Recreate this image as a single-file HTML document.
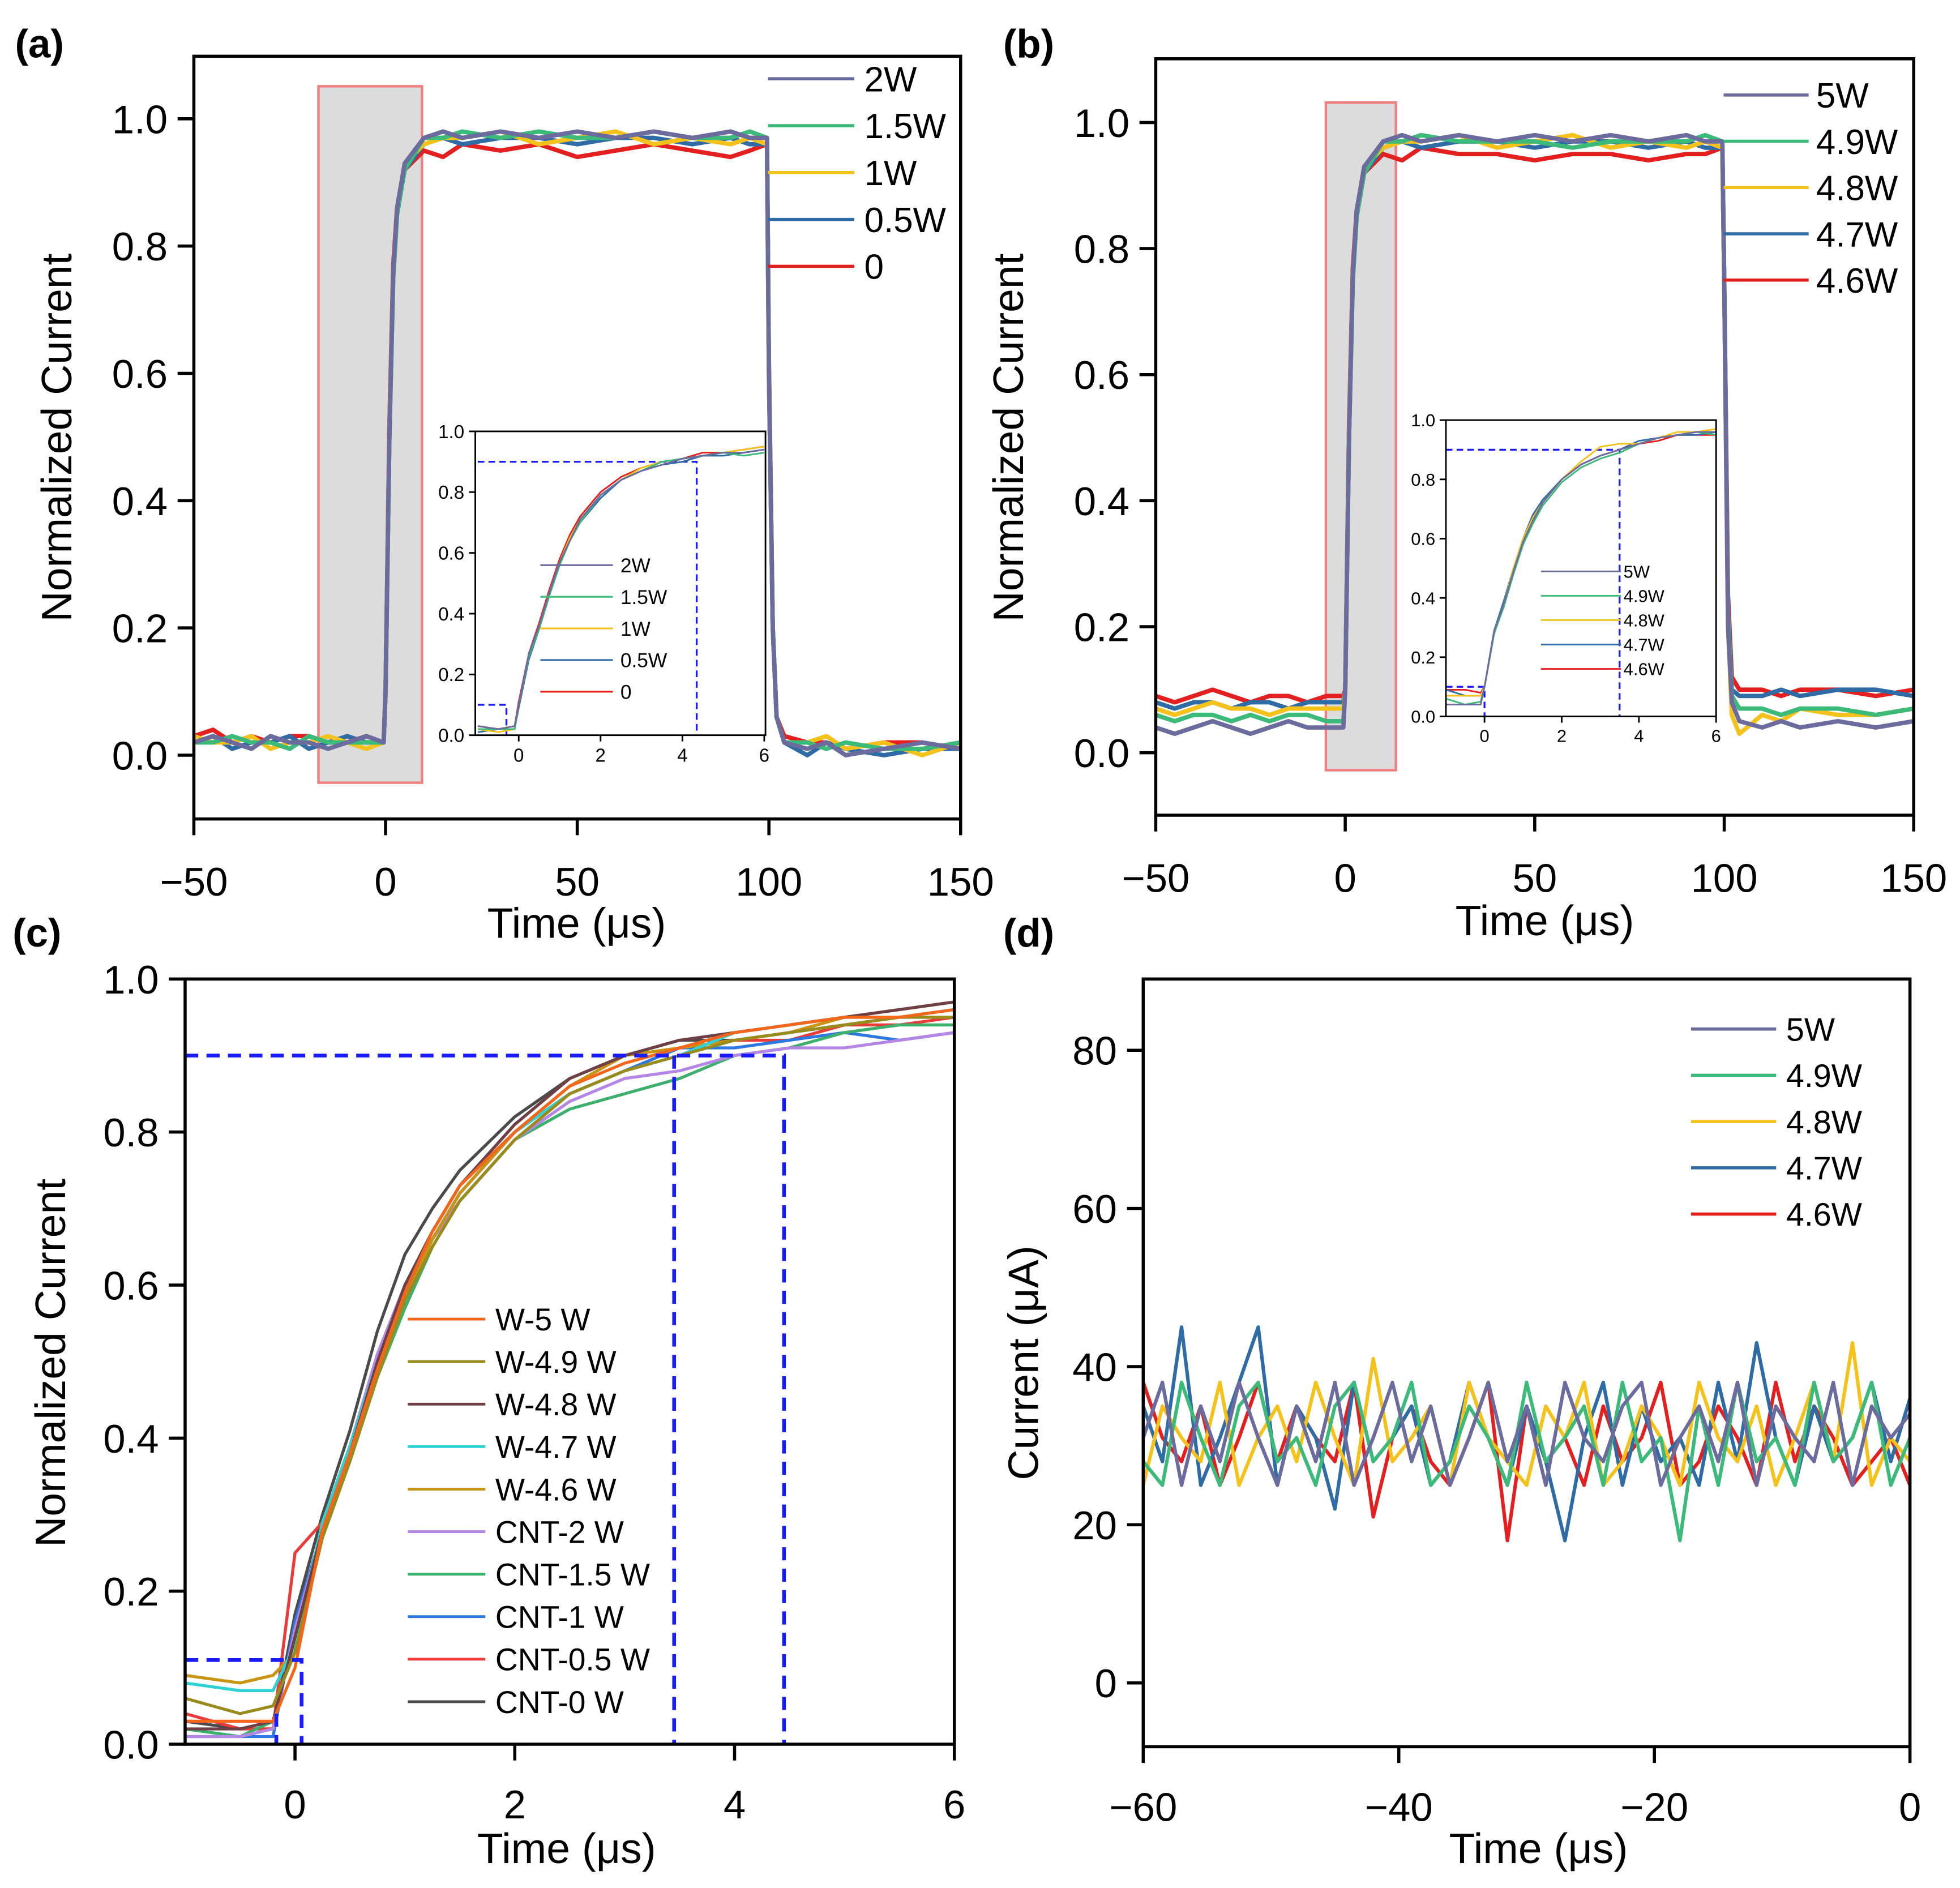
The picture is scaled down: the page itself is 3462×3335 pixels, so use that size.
<!DOCTYPE html>
<html><head><meta charset="utf-8"><style>
html,body{margin:0;padding:0;background:#fff;}
svg{display:block;font-family:"Liberation Sans",Arial,sans-serif;}
</style></head><body>
<svg id="fig" xmlns="http://www.w3.org/2000/svg" width="3462" height="3335" viewBox="0 0 1567 1510" preserveAspectRatio="none"></svg>
<script>
// ---------- DATA ----------
const pwrA = ["2W","1.5W","1W","0.5W","0"];
const colA = ["#6b6b9e","#3cba7a","#f5c21b","#2f6ca6","#e3201f"];
const pwrB = ["5W","4.9W","4.8W","4.7W","4.6W"];
const colB = ["#6b6b9e","#3cba7a","#f5c21b","#2f6ca6","#e3201f"];
const tMain = [-50,-45,-40,-35,-30,-25,-20,-15,-10,-5,-0.5,0,1,2,3,5,10,15,20,30,40,50,60,70,80,90,95,99.5,100,101,102,104,110,115,120,130,140,150];
const aS0 = [0.02,0.03,0.02,0.01,0.03,0.02,0.02,0.01,0.02,0.03,0.02,0.1,0.5,0.76,0.86,0.93,0.97,0.98,0.97,0.98,0.97,0.98,0.97,0.98,0.97,0.98,0.97,0.97,0.6,0.2,0.06,0.02,0.01,0.02,0.0,0.01,0.02,0.01];
const aS1 = [0.02,0.02,0.03,0.02,0.02,0.01,0.03,0.02,0.02,0.02,0.02,0.1,0.5,0.75,0.85,0.92,0.97,0.97,0.98,0.97,0.98,0.97,0.97,0.98,0.97,0.97,0.98,0.97,0.6,0.2,0.06,0.02,0.02,0.01,0.02,0.01,0.01,0.02];
const aS2 = [0.03,0.02,0.02,0.03,0.01,0.02,0.02,0.03,0.02,0.01,0.02,0.1,0.51,0.76,0.86,0.93,0.96,0.97,0.97,0.98,0.96,0.97,0.98,0.96,0.97,0.96,0.97,0.96,0.6,0.2,0.06,0.02,0.02,0.03,0.01,0.02,0.0,0.02];
const aS3 = [0.02,0.03,0.01,0.02,0.02,0.03,0.01,0.02,0.03,0.02,0.02,0.1,0.5,0.75,0.85,0.92,0.96,0.97,0.96,0.97,0.97,0.96,0.97,0.97,0.96,0.97,0.96,0.96,0.6,0.2,0.06,0.02,0.0,0.02,0.01,0.0,0.01,0.01];
const aS4 = [0.03,0.04,0.02,0.03,0.02,0.03,0.03,0.02,0.02,0.03,0.02,0.1,0.52,0.77,0.86,0.92,0.95,0.94,0.96,0.95,0.96,0.94,0.95,0.96,0.95,0.94,0.95,0.96,0.62,0.2,0.06,0.03,0.02,0.02,0.01,0.02,0.02,0.01];
const bS0 = [0.04,0.03,0.04,0.05,0.04,0.03,0.04,0.05,0.04,0.04,0.04,0.1,0.5,0.76,0.86,0.93,0.97,0.98,0.97,0.98,0.97,0.98,0.97,0.98,0.97,0.98,0.97,0.97,0.75,0.2,0.08,0.05,0.04,0.05,0.04,0.05,0.04,0.05];
const bS1 = [0.06,0.05,0.06,0.06,0.05,0.06,0.05,0.06,0.06,0.05,0.05,0.1,0.5,0.75,0.85,0.92,0.97,0.97,0.98,0.97,0.97,0.97,0.96,0.97,0.97,0.97,0.98,0.97,0.75,0.22,0.09,0.07,0.07,0.06,0.07,0.07,0.06,0.07];
const bS2 = [0.07,0.06,0.07,0.08,0.07,0.07,0.06,0.07,0.07,0.07,0.07,0.1,0.51,0.76,0.86,0.93,0.96,0.97,0.97,0.98,0.96,0.97,0.98,0.96,0.97,0.96,0.97,0.96,0.75,0.2,0.06,0.03,0.06,0.05,0.07,0.06,0.06,0.07];
const bS3 = [0.08,0.07,0.08,0.08,0.07,0.08,0.08,0.07,0.08,0.08,0.08,0.1,0.5,0.75,0.85,0.92,0.96,0.97,0.96,0.97,0.97,0.96,0.97,0.97,0.96,0.97,0.96,0.96,0.75,0.23,0.1,0.09,0.09,0.1,0.09,0.1,0.1,0.09];
const bS4 = [0.09,0.08,0.09,0.1,0.09,0.08,0.09,0.09,0.08,0.09,0.09,0.1,0.52,0.77,0.86,0.92,0.95,0.94,0.96,0.95,0.95,0.94,0.95,0.95,0.94,0.95,0.95,0.96,0.75,0.25,0.12,0.1,0.1,0.09,0.1,0.1,0.09,0.1];
const tIn = [-1,-0.5,-0.1,0,0.25,0.5,0.75,1,1.25,1.5,2,2.5,3,3.5,4,4.5,5,5.5,6];
const iA0 = [0.03,0.02,0.03,0.1,0.27,0.36,0.47,0.57,0.64,0.71,0.79,0.84,0.87,0.89,0.91,0.92,0.93,0.93,0.94];
const iA1 = [0.02,0.02,0.02,0.1,0.26,0.35,0.46,0.56,0.64,0.7,0.79,0.84,0.87,0.9,0.91,0.92,0.93,0.92,0.93];
const iA2 = [0.02,0.01,0.02,0.1,0.26,0.36,0.47,0.57,0.65,0.71,0.79,0.84,0.88,0.9,0.91,0.92,0.93,0.94,0.95];
const iA3 = [0.01,0.02,0.02,0.09,0.25,0.35,0.46,0.56,0.64,0.7,0.78,0.84,0.87,0.89,0.9,0.92,0.92,0.93,0.94];
const iA4 = [0.03,0.02,0.03,0.11,0.27,0.37,0.48,0.58,0.66,0.72,0.8,0.85,0.88,0.9,0.91,0.93,0.93,0.94,0.95];
const iB0 = [0.04,0.04,0.04,0.1,0.29,0.38,0.49,0.59,0.66,0.72,0.8,0.85,0.88,0.9,0.92,0.94,0.95,0.96,0.96];
const iB1 = [0.06,0.04,0.05,0.1,0.28,0.37,0.48,0.58,0.65,0.71,0.79,0.84,0.87,0.89,0.92,0.94,0.95,0.96,0.95];
const iB2 = [0.07,0.07,0.07,0.1,0.28,0.38,0.5,0.6,0.67,0.72,0.8,0.86,0.91,0.92,0.92,0.94,0.96,0.96,0.97];
const iB3 = [0.09,0.07,0.07,0.1,0.29,0.39,0.5,0.6,0.68,0.73,0.8,0.85,0.88,0.9,0.93,0.94,0.95,0.95,0.96];
const iB4 = [0.09,0.09,0.08,0.1,0.28,0.38,0.49,0.59,0.66,0.72,0.8,0.85,0.88,0.9,0.92,0.93,0.95,0.95,0.95];
const namesC = ["W-5 W","W-4.9 W","W-4.8 W","W-4.7 W","W-4.6 W","CNT-2 W","CNT-1.5 W","CNT-1 W","CNT-0.5 W","CNT-0 W"];
const colC = ["#f4661b","#9a8c1c","#6e3f44","#2fd2d2","#c89412","#b486e6","#3cb06c","#2a78e0","#ea3a3a","#4a4a4a"];
const tC = [-1,-0.5,-0.2,0,0.25,0.5,0.75,1,1.25,1.5,2,2.5,3,3.5,4,4.5,5,5.5,6];
const cS0 = [0.03,0.03,0.03,0.1,0.28,0.38,0.49,0.59,0.67,0.73,0.8,0.86,0.89,0.91,0.93,0.94,0.95,0.95,0.96];
const cS1 = [0.06,0.04,0.05,0.12,0.27,0.37,0.48,0.58,0.65,0.71,0.79,0.85,0.88,0.9,0.92,0.93,0.94,0.95,0.95];
const cS2 = [0.02,0.02,0.03,0.14,0.28,0.38,0.5,0.6,0.67,0.73,0.81,0.87,0.9,0.92,0.93,0.94,0.95,0.96,0.97];
const cS3 = [0.08,0.07,0.07,0.13,0.29,0.39,0.5,0.6,0.67,0.73,0.8,0.85,0.88,0.9,0.93,0.94,0.95,0.95,0.96];
const cS4 = [0.09,0.08,0.09,0.12,0.27,0.37,0.48,0.58,0.66,0.72,0.8,0.86,0.9,0.91,0.92,0.93,0.95,0.96,0.97];
const cS5 = [0.01,0.01,0.02,0.15,0.28,0.39,0.51,0.6,0.66,0.71,0.79,0.84,0.87,0.88,0.9,0.91,0.91,0.92,0.93];
const cS6 = [0.02,0.01,0.03,0.14,0.27,0.37,0.48,0.57,0.65,0.71,0.79,0.83,0.85,0.87,0.9,0.91,0.93,0.94,0.94];
const cS7 = [0.01,0.01,0.01,0.16,0.28,0.38,0.49,0.59,0.66,0.72,0.8,0.85,0.88,0.91,0.91,0.92,0.93,0.92,0.93];
const cS8 = [0.04,0.02,0.02,0.25,0.29,0.39,0.5,0.59,0.66,0.72,0.8,0.85,0.88,0.91,0.92,0.92,0.94,0.94,0.95];
const cS9 = [0.03,0.02,0.02,0.17,0.3,0.41,0.54,0.64,0.7,0.75,0.82,0.87,0.9,0.92,0.92,0.93,0.94,0.95,0.96];
const tD = [-60,-58.5,-57,-55.5,-54,-52.5,-51,-49.5,-48,-46.5,-45,-43.5,-42,-40.5,-39,-37.5,-36,-34.5,-33,-31.5,-30,-28.5,-27,-25.5,-24,-22.5,-21,-19.5,-18,-16.5,-15,-13.5,-12,-10.5,-9,-7.5,-6,-4.5,-3,-1.5,0];
const dS0 = [31,38,25,35,28,38,31,25,35,28,38,25,31,38,28,35,25,31,38,28,35,25,38,31,28,35,38,25,31,35,28,38,25,35,31,28,38,25,35,31,34];
const dS1 = [28,25,38,31,25,35,38,28,31,25,35,38,28,31,38,25,28,35,31,25,38,28,31,35,25,38,28,31,18,35,25,38,28,31,25,38,28,31,38,25,31];
const dS2 = [25,35,31,28,38,25,31,35,28,38,31,25,41,28,31,35,25,38,31,28,25,35,31,38,25,28,35,31,25,38,31,28,35,25,31,38,28,43,25,31,28];
const dS3 = [35,28,45,25,31,38,45,25,35,31,22,38,28,31,35,25,28,38,31,25,35,28,18,31,38,25,35,28,31,25,38,28,43,31,25,35,28,31,38,28,36];
const dS4 = [38,31,28,35,25,31,38,28,35,31,28,38,21,31,35,28,25,31,38,18,35,28,31,25,35,28,31,38,25,28,35,31,25,38,28,35,31,25,28,31,25];

// ---------- HELPERS ----------
const NS="http://www.w3.org/2000/svg";
const svg=document.getElementById('fig');
function mk(tag,attrs,parent){const e=document.createElementNS(NS,tag);for(const k in attrs)e.setAttribute(k,attrs[k]);(parent||svg).appendChild(e);return e;}
function txt(x,y,s,size,anchor,parent,weight){const e=mk('text',{x:x,y:y,'font-size':size,'text-anchor':anchor||'middle','font-weight':weight||'normal',fill:'#000'},parent);e.textContent=s;return e;}
function scale(d0,d1,r0,r1){return v=>r0+(v-d0)*(r1-r0)/(d1-d0);}
function line(xs,ys,sx,sy,col,w,parent){let d='';for(let i=0;i<xs.length;i++){d+=(i?'L':'M')+sx(xs[i]).toFixed(2)+','+sy(ys[i]).toFixed(2);}return mk('path',{d:d,fill:'none',stroke:col,'stroke-width':w,'stroke-linejoin':'round'},parent);}
function axes(g,L,T,R,B,sx,sy,xt,yt,fs,tl,lw,ydec,xoff){
  xoff=xoff||0;
  const fr=mk('rect',{x:L,y:T,width:R-L,height:B-T,fill:'none',stroke:'#000','stroke-width':lw},g);
  
  
  xt.forEach(v=>{const x=sx(v);mk('line',{x1:x,y1:B,x2:x,y2:B+tl,stroke:'#000','stroke-width':lw},g);const t=txt(x,B+tl+fs*0.95+xoff,(v<0?'\u2212'+Math.abs(v):String(v)),fs,'middle',g);});
  yt.forEach(v=>{const y=sy(v);mk('line',{x1:L-tl,y1:y,x2:L,y2:y,stroke:'#000','stroke-width':lw},g);const t=txt(L-tl-fs*0.25,y+fs*0.36,(ydec?v.toFixed(1):String(v)),fs,'end',g);});
}
function legend(g,names,cols,x1,x2,tx,y0,dy,fs,w){names.forEach((n,i)=>{const y=y0+i*dy;const e=mk('g',{},g);mk('line',{x1:x1,y1:y,x2:x2,y2:y,stroke:cols[i],'stroke-width':w},e);txt(tx,y+fs*0.36,n,fs,'start',e);});}
function dashed(g,pts,w){let d='';pts.forEach((p,i)=>d+=(i?'L':'M')+p[0]+','+p[1]);const e=mk('path',{d:d,fill:'none',stroke:'#1a1aff','stroke-width':w,'stroke-dasharray':(w*3.5)+','+(w*2.2)},g);}

// ---------- PANEL A ----------
(function(){
 const g=mk('g',{});
 const sx=scale(-50,150,155,768), sy=scale(0,1,604,95);
 const hl=mk('rect',{x:sx(-17.5),y:69,width:sx(9.5)-sx(-17.5),height:557,fill:'#dcdcdc',stroke:'#f08080','stroke-width':2},g);
 
 const ser=[aS0,aS1,aS2,aS3,aS4];
 for(let i=ser.length-1;i>=0;i--){const p=line(tMain,ser[i],sx,sy,colA[i],3.5,g);}
 axes(g,155,45,768,655,sx,sy,[-50,0,50,100,150],[0,0.2,0.4,0.6,0.8,1.0],32,13,2.5,true,18);
 legend(g,pwrA,colA,614,683,691,63,37.5,28,2.5);
 const xt=txt(461,750,'Time (\u03bcs)',34,'middle',g);
 const yt=txt(0,0,'Normalized Current',34,'middle',g);yt.setAttribute('transform','translate(57,350) rotate(-90)');
 const pl=txt(12,46,'(a)',32,'start',g,'bold');
 const ig=mk('g',{},g);
 mk('rect',{x:380,y:345,width:232,height:243,fill:'#fff'},ig);
 const ix=scale(-1,6,382,611), iy=scale(0,1,588,345);
 dashed(ig,[[382,iy(0.1)],[ix(-0.3),iy(0.1)],[ix(-0.3),588]],1.5);
 dashed(ig,[[382,iy(0.9)],[ix(4.35),iy(0.9)],[ix(4.35),588]],1.5);
 const isr=[iA0,iA1,iA2,iA3,iA4];
 for(let i=isr.length-1;i>=0;i--){const p=line(tIn,isr[i],ix,iy,colA[i],1.3,ig);}
 axes(ig,380,345,612,588,ix,iy,[0,2,4,6],[0,0.2,0.4,0.6,0.8,1.0],15,5,1.3,true,2);
 legend(ig,pwrA,colA,432,490,496,452,25.3,16,1.4);
})();

// ---------- PANEL B ----------
(function(){
 const g=mk('g',{});
 const sx=scale(-50,150,924,1530), sy=scale(0,1,602,98);
 const hl=mk('rect',{x:1060,y:82,width:56,height:534,fill:'#dcdcdc',stroke:'#f08080','stroke-width':2},g);
 
 const ser=[bS0,bS1,bS2,bS3,bS4];
 for(let i=ser.length-1;i>=0;i--){const p=line(tMain,ser[i],sx,sy,colB[i],3.5,g);}
 axes(g,924,47,1530,652,sx,sy,[-50,0,50,100,150],[0,0.2,0.4,0.6,0.8,1.0],32,13,2.5,true,18);
 legend(g,pwrB,colB,1378,1446,1452,76,37,28,2.5);
 const xt=txt(1235,748,'Time (\u03bcs)',34,'middle',g);
 const yt=txt(0,0,'Normalized Current',34,'middle',g);yt.setAttribute('transform','translate(818,350) rotate(-90)');
 const pl=txt(802,46,'(b)',32,'start',g,'bold');
 const ig=mk('g',{},g);
 mk('rect',{x:1156,y:336,width:216,height:237,fill:'#fff'},ig);
 const ix=scale(-1,6,1156,1372), iy=scale(0,1,573,336);
 dashed(ig,[[1156,iy(0.1)],[ix(0),iy(0.1)],[ix(0),573]],1.5);
 dashed(ig,[[1156,iy(0.9)],[ix(3.5),iy(0.9)],[ix(3.5),573]],1.5);
 const isr=[iB0,iB1,iB2,iB3,iB4];
 for(let i=isr.length-1;i>=0;i--){const p=line(tIn,isr[i],ix,iy,colB[i],1.3,ig);}
 axes(ig,1156,336,1372,573,ix,iy,[0,2,4,6],[0,0.2,0.4,0.6,0.8,1.0],14,5,1.3,true,2);
 legend(ig,pwrB,colB,1232,1296,1298,457,19.5,14,1.3);
})();

// ---------- PANEL C ----------
(function(){
 const g=mk('g',{});
 const sx=scale(-1,6,148,763), sy=scale(0,1,1395,783);
 const ser=[cS0,cS1,cS2,cS3,cS4,cS5,cS6,cS7,cS8,cS9];
 for(let i=ser.length-1;i>=0;i--){const p=line(tC,ser[i],sx,sy,colC[i],2.4,g);}
 dashed(g,[[148,sy(0.9)],[sx(4.45),sy(0.9)],[sx(4.45),1395]],3);
 dashed(g,[[sx(3.45),sy(0.9)],[sx(3.45),1395]],3);
 dashed(g,[[148,sy(0.11)],[sx(0.06),sy(0.11)],[sx(0.06),1395]],3);
 dashed(g,[[sx(-0.17),sy(0.04)],[sx(-0.17),1395]],3);
 axes(g,148,783,763,1395,sx,sy,[0,2,4,6],[0,0.2,0.4,0.6,0.8,1.0],32,13,2.5,true,16);
 legend(g,namesC,colC,326,388,396,1055,34,25,2.2);
 const xt=txt(453,1490,'Time (\u03bcs)',34,'middle',g);
 const yt=txt(0,0,'Normalized Current',34,'middle',g);yt.setAttribute('transform','translate(52,1090) rotate(-90)');
 const pl=txt(10,757,'(c)',32,'start',g,'bold');
})();

// ---------- PANEL D ----------
(function(){
 const g=mk('g',{});
 const sx=scale(-60,0,914,1527), sy=scale(0,80,1346,840);
 const ser=[dS0,dS1,dS2,dS3,dS4];
 const order=[4,3,2,1,0];
 order.forEach(i=>{const p=line(tD,ser[i],sx,sy,colB[i],2.8,g);});
 axes(g,914,783,1527,1397,sx,sy,[-60,-40,-20,0],[0,20,40,60,80],32,13,2.5,false,16);
 legend(g,pwrB,colB,1352,1420,1428,823,37,26,2.5);
 const xt=txt(1230,1490,'Time (\u03bcs)',34,'middle',g);
 const yt=txt(0,0,'Current (\u03bcA)',34,'middle',g);yt.setAttribute('transform','translate(830,1090) rotate(-90)');
 const pl=txt(802,757,'(d)',32,'start',g,'bold');
})();
</script>
</body></html>
